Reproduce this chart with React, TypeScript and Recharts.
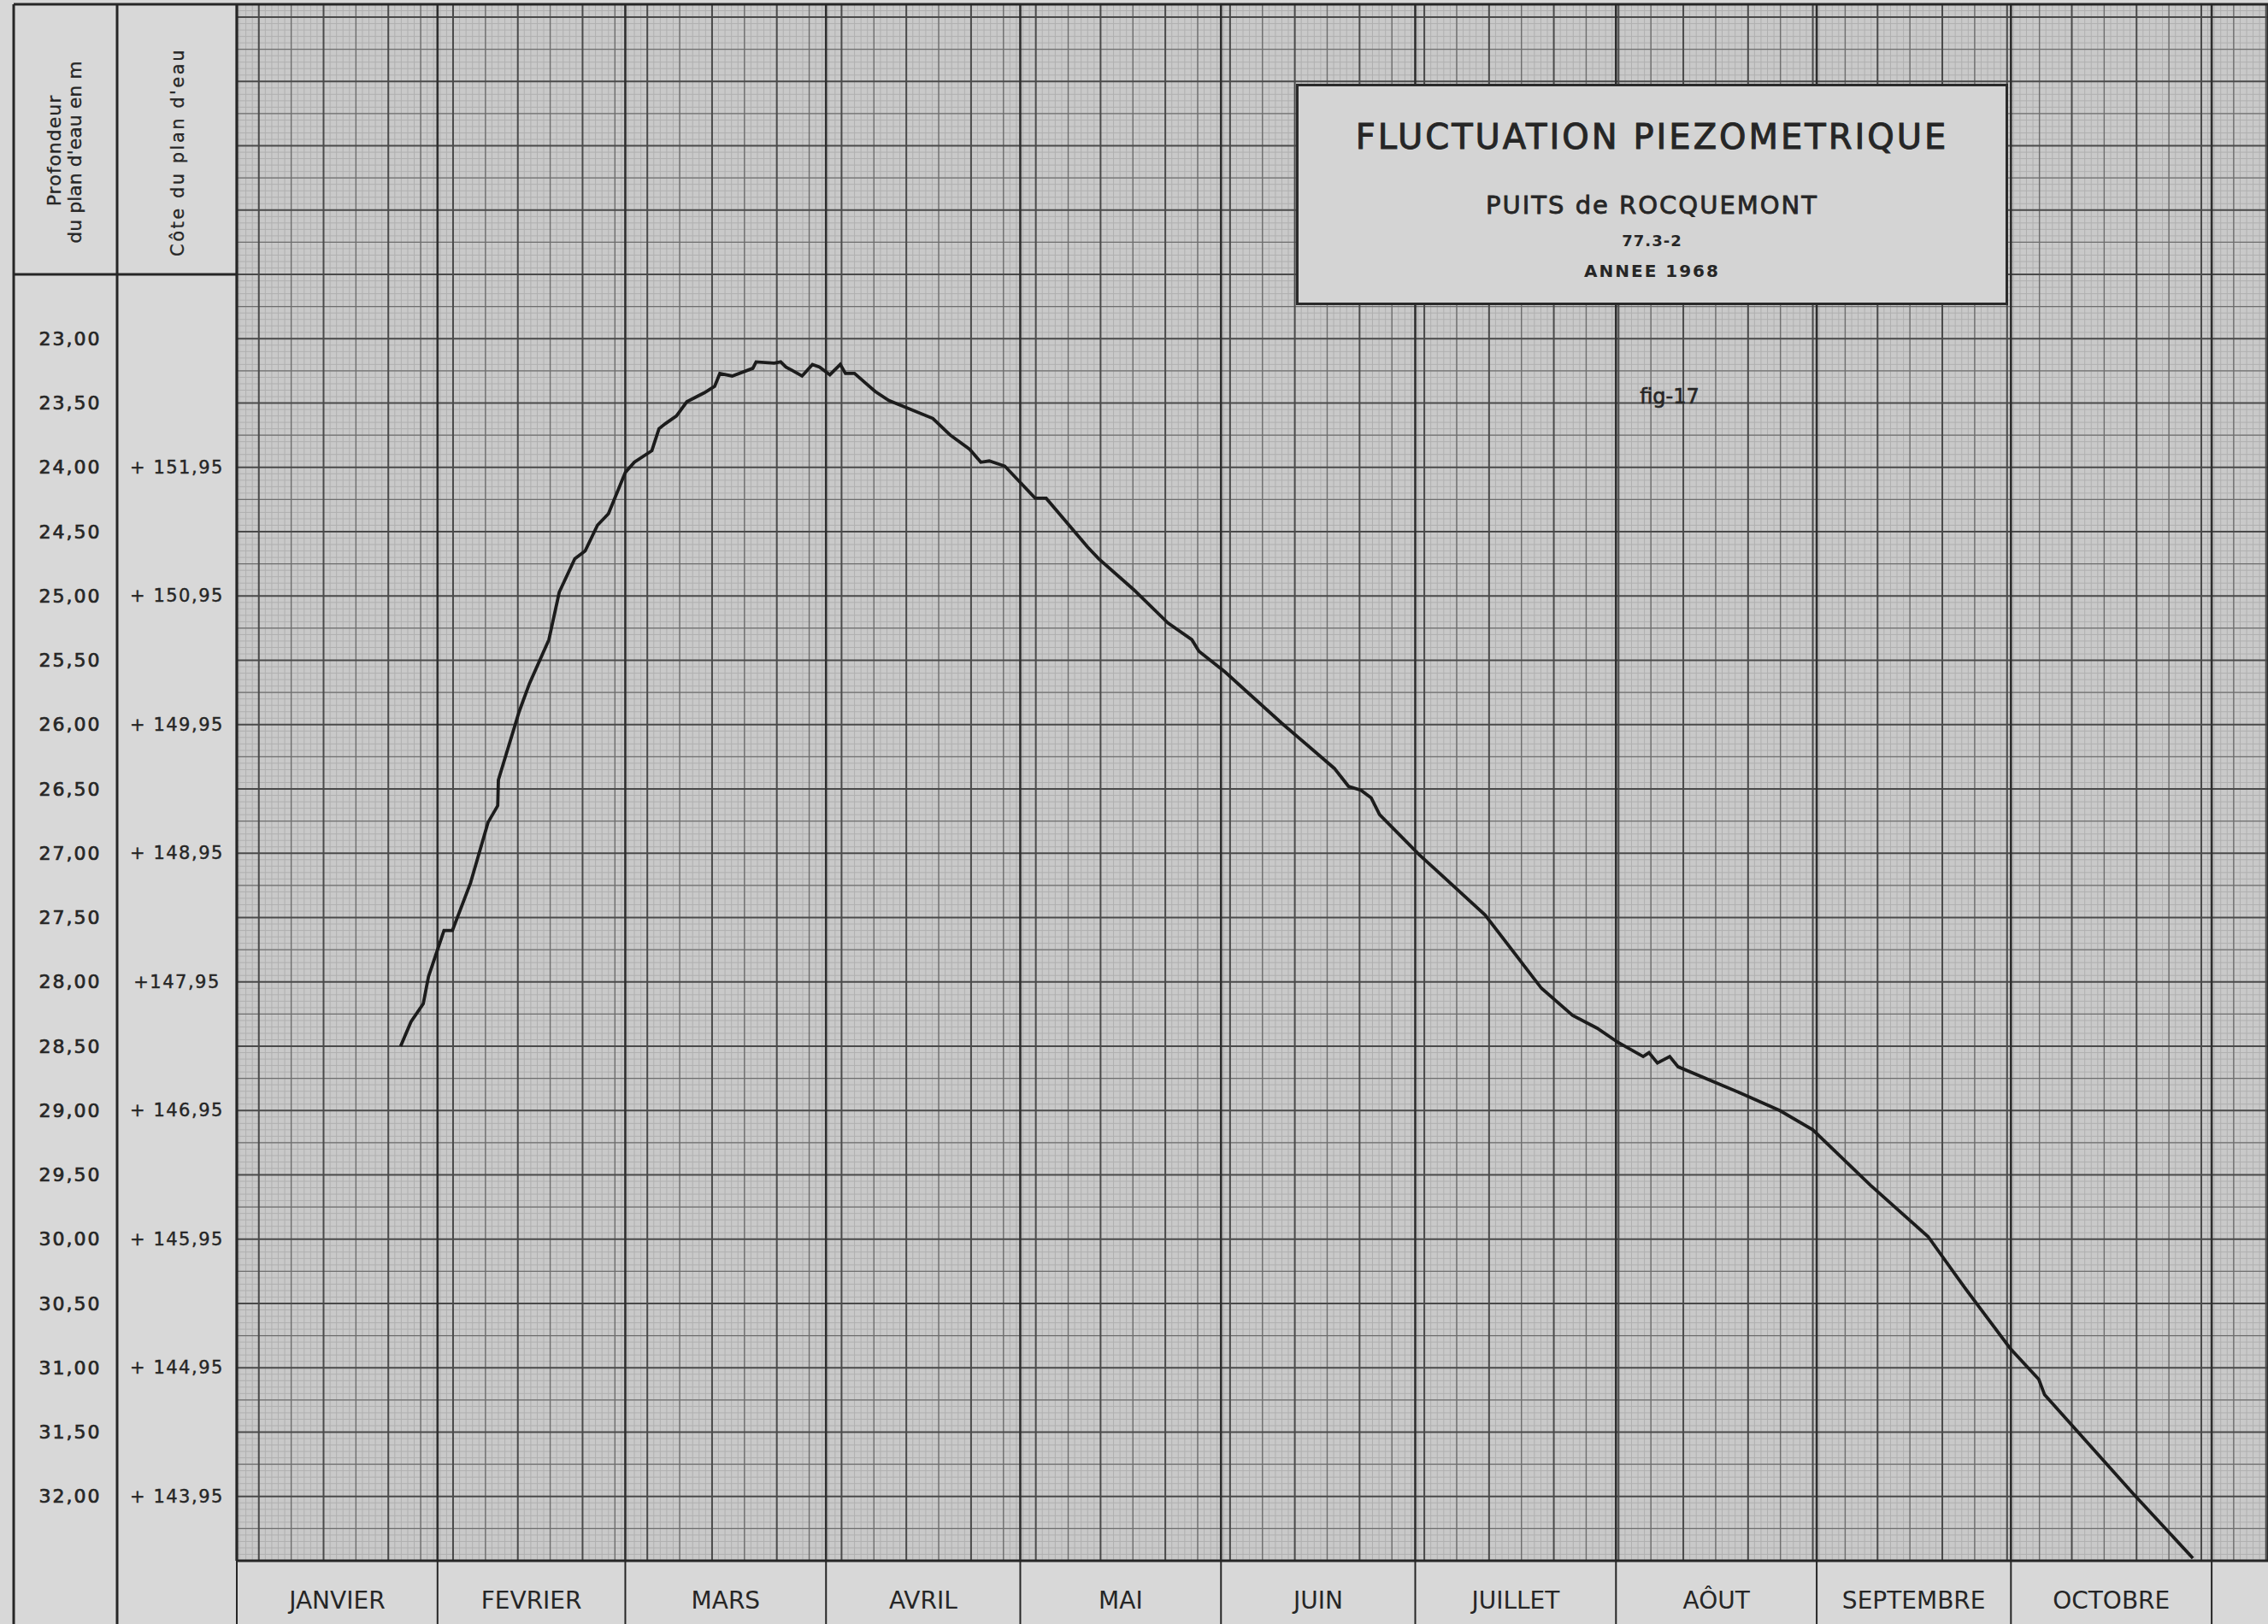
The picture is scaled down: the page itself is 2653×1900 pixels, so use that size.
import React from "react";
import { LineChart, Line, XAxis, YAxis, CartesianGrid } from "recharts";

// Puits de Rocquemont 77-3-2, année 1968
// x = day of year (0 = 1er janvier), y = profondeur du plan d'eau (m)
const days = [
  25.3, 26.9, 28.8, 29.6, 32.0, 33.3, 36.1, 38.8, 40.3, 40.4, 43.6, 45.2,
  48.2, 49.8, 52.2, 53.8, 55.7, 57.4, 60.0, 61.4, 64.1, 65.2, 66.2, 67.9,
  69.5, 72.2, 73.8, 74.6, 76.5, 79.7, 80.2, 83.0, 84.0, 84.8, 85.9, 87.3,
  88.9, 90.0, 91.6, 93.2, 94.0, 95.4, 98.6, 100.7, 107.5, 110.2, 113.2, 114.9,
  116.2, 118.6, 123.3, 125.0, 131.4, 133.1, 138.5, 143.8, 147.5, 148.6, 152.6, 161.4,
  169.5, 171.7, 173.6, 175.2, 176.5, 182.6, 192.8, 201.5, 206.3, 210.1, 213.3, 217.2,
  218.1, 219.4, 221.3, 222.6, 232.5, 238.3, 243.4, 252.3, 261.2, 266.9, 273.9, 278.3,
  279.2, 292.9, 302.1,
];
const depths = [
  28.5, 28.31, 28.17, 27.96, 27.6, 27.6, 27.23, 26.76, 26.63, 26.43, 25.9, 25.68,
  25.34, 24.97, 24.71, 24.65, 24.45, 24.36, 24.04, 23.96, 23.87, 23.7, 23.66, 23.6,
  23.49, 23.42, 23.37, 23.27, 23.29, 23.23, 23.18, 23.19, 23.18, 23.22, 23.25, 23.29,
  23.2, 23.22, 23.28, 23.2, 23.27, 23.27, 23.41, 23.48, 23.62, 23.75, 23.86, 23.96,
  23.95, 23.99, 24.24, 24.24, 24.62, 24.71, 24.95, 25.21, 25.34, 25.43, 25.59, 25.99,
  26.34, 26.48, 26.51, 26.57, 26.7, 27.01, 27.48, 28.05, 28.26, 28.36, 28.47, 28.58,
  28.55, 28.63, 28.58, 28.66, 28.87, 29.0, 29.15, 29.58, 29.98, 30.38, 30.85, 31.09,
  31.21, 31.98, 32.48,
];

const monthNames = [
  "JANVIER", "FEVRIER", "MARS", "AVRIL", "MAI",
  "JUIN", "JUILLET", "AÔUT", "SEPTEMBRE", "OCTOBRE",
];
const monthStarts = [0, 31, 60, 91, 121, 152, 182, 213, 244, 274, 305];

const depthTicks = [
  23, 23.5, 24, 24.5, 25, 25.5, 26, 26.5, 27, 27.5,
  28, 28.5, 29, 29.5, 30, 30.5, 31, 31.5, 32,
];
const depthLabels = [
  "23,00", "23,50", "24,00", "24,50", "25,00", "25,50", "26,00", "26,50", "27,00", "27,50",
  "28,00", "28,50", "29,00", "29,50", "30,00", "30,50", "31,00", "31,50", "32,00",
];
const coteDepths = [24, 25, 26, 27, 28, 29, 30, 31, 32];
const coteLabels = [
  "+ 151,95", "+ 150,95", "+ 149,95", "+ 148,95", "+147,95",
  "+ 146,95", "+ 145,95", "+ 144,95", "+ 143,95",
];

const data = days.map((d, i) => ({ day: d, depth: depths[i] }));

const X_DOMAIN: [number, number] = [0, 313.7];
const Y_DOMAIN: [number, number] = [20.4, 32.5];

// millimetre paper rulings
const range = (a: number, b: number, step: number) => {
  const out: number[] = [];
  for (let v = a; v <= b + 1e-6; v += step) out.push(Math.round(v * 1000) / 1000);
  return out;
};
const vFine = range(0.4, 313.7, 1);
const vMid = range(8.4, 313.7, 10);
const vMajor = range(3.4, 313.7, 10);
const hFine = range(20.4, 32.5, 0.05);
const hMid = range(20.75, 32.5, 0.5);
const hMajor = range(20.5, 32.5, 0.5);

const monthMids = monthStarts.slice(0, -1).map((s, i) => (s + monthStarts[i + 1]) / 2);
const monthTicks = [...monthStarts, ...monthMids];

const INK = "#262626";
const FONT = "'DejaVu Sans', sans-serif";

function MonthTick(props: any) {
  const { x, y, payload } = props;
  const v = payload.value;
  if (monthStarts.indexOf(v) >= 0) {
    return <line x1={x} y1={y} x2={x} y2={y + 74} stroke={INK} strokeWidth={2} />;
  }
  const m = monthMids.indexOf(v);
  return (
    <text x={x} y={y + 46} textAnchor="middle" dominantBaseline="central"
      fill={INK} fontSize={28} fontFamily={FONT}>
      {monthNames[m]}
    </text>
  );
}

function DepthTick(props: any) {
  const { x, y, payload } = props;
  const v = payload.value;
  const i = depthTicks.indexOf(v);
  const c = coteDepths.indexOf(v);
  return (
    <g>
      <text x={x - 195} y={y} textAnchor="middle" dominantBaseline="central"
        fill={INK} stroke={INK} strokeWidth={0.7} fontSize={22} fontFamily={FONT}
        letterSpacing={2}>
        {depthLabels[i]}
      </text>
      {c >= 0 && (
        <text x={x - 70} y={y} textAnchor="middle" dominantBaseline="central"
          fill={INK} stroke={INK} strokeWidth={0.4} fontSize={21} fontFamily={FONT}
          letterSpacing={1.5}>
          {coteLabels[c]}
        </text>
      )}
    </g>
  );
}

const hiddenX = (id: string, ticks: number[]) => (
  <XAxis key={id} xAxisId={id} type="number" dataKey="day" domain={X_DOMAIN}
    ticks={ticks} interval={0} allowDataOverflow hide />
);
const hiddenY = (id: string, ticks: number[]) => (
  <YAxis key={id} yAxisId={id} type="number" domain={Y_DOMAIN} reversed
    ticks={ticks} interval={0} allowDataOverflow hide />
);

export default function App() {
  return (
    <div style={{ position: "absolute", left: 0, top: 0, width: 2653, height: 1900,
      background: "#d8d8d8", fontFamily: FONT, color: INK, overflow: "hidden" }}>
      <LineChart width={2653} height={1900} data={data}
        margin={{ top: 5, right: 0, bottom: 0, left: 16 }}>
        {hiddenX("xFine", vFine)}
        {hiddenX("xMid", vMid)}
        {hiddenX("xMajor", vMajor)}
        {hiddenX("xMonth", monthStarts)}
        {hiddenY("yFine", hFine)}
        {hiddenY("yMid", hMid)}
        {hiddenY("yMajor", hMajor)}
        <CartesianGrid xAxisId="xFine" yAxisId="yFine" stroke="#b0b0b0" fill="#c9c9c9" />
        <CartesianGrid xAxisId="xMid" yAxisId="yMid" stroke="#6e6e6e" strokeWidth={1.4} />
        <CartesianGrid xAxisId="xMajor" yAxisId="yMajor" stroke="#4a4a4a" strokeWidth={2} />
        <CartesianGrid xAxisId="xMonth" yAxisId="yMajor" horizontal={false}
          stroke="#2e2e2e" strokeWidth={2.6} />
        <XAxis xAxisId="months" type="number" dataKey="day" domain={X_DOMAIN}
          ticks={monthTicks} interval={0} height={74} tickLine={false} tickSize={0}
          tickMargin={0} axisLine={{ stroke: INK, strokeWidth: 3 }}
          tick={<MonthTick />} allowDataOverflow />
        <YAxis yAxisId="depth" type="number" domain={Y_DOMAIN} reversed
          ticks={depthTicks} interval={0} width={261} tickLine={false} tickSize={0}
          tickMargin={0} axisLine={{ stroke: INK, strokeWidth: 3 }}
          tick={<DepthTick />} allowDataOverflow />
        <Line xAxisId="months" yAxisId="depth" type="linear" dataKey="depth"
          stroke="#1c1c1c" strokeWidth={3.8} dot={false} isAnimationActive={false} />
      </LineChart>

      {/* frame of the label columns */}
      <svg width={2653} height={1900} style={{ position: "absolute", left: 0, top: 0, pointerEvents: "none" }}>
        <line x1={16} y1={5} x2={2653} y2={5} stroke={INK} strokeWidth={3} />
        <line x1={16} y1={5} x2={16} y2={1900} stroke={INK} strokeWidth={3} />
        <line x1={137} y1={5} x2={137} y2={1900} stroke={INK} strokeWidth={3} />
        <line x1={16} y1={321} x2={277} y2={321} stroke={INK} strokeWidth={3} />
        <text transform="translate(63,176) rotate(-90)" textAnchor="middle"
          dominantBaseline="central" fontSize={22} fill={INK} stroke={INK} strokeWidth={0.3}
          fontFamily={FONT} letterSpacing={1}>Profondeur</text>
        <text transform="translate(87,178) rotate(-90)" textAnchor="middle"
          dominantBaseline="central" fontSize={22} fill={INK} stroke={INK} strokeWidth={0.3}
          fontFamily={FONT}>du plan d'eau en m</text>
        <text transform="translate(208,178) rotate(-90)" textAnchor="middle"
          dominantBaseline="central" fontSize={21} fill={INK} stroke={INK} strokeWidth={0.3}
          fontFamily={FONT} letterSpacing={2.5}>Côte du plan d'eau</text>
        <text x={1953} y={464} textAnchor="middle" dominantBaseline="central"
          fontSize={24} fill={INK} stroke={INK} strokeWidth={0.6} fontFamily={FONT}>fig-17</text>
      </svg>

      {/* cartouche */}
      <div style={{ position: "absolute", left: 1516, top: 98, width: 827, height: 253,
        border: "3px solid #2a2a2a", background: "#d4d4d4" }}>
        {[
          { t: "FLUCTUATION PIEZOMETRIQUE", y: 59, s: 40, ls: 3, w: 400, k: 1 },
          { t: "PUITS de ROCQUEMONT", y: 139, s: 29, ls: 2, w: 400, k: 0.8 },
          { t: "77.3-2", y: 181, s: 18, ls: 1, w: 700, k: 0 },
          { t: "ANNEE 1968", y: 216, s: 20, ls: 2, w: 700, k: 0 },
        ].map((r) => (
          <div key={r.t} style={{ position: "absolute", left: 0, width: 827, top: r.y - r.s * 0.6,
            textAlign: "center", fontSize: r.s, letterSpacing: r.ls, fontWeight: r.w,
            lineHeight: `${r.s * 1.2}px`, whiteSpace: "nowrap",
            WebkitTextStroke: `${r.k}px ${INK}` } as React.CSSProperties}>
            {r.t}
          </div>
        ))}
      </div>
    </div>
  );
}
